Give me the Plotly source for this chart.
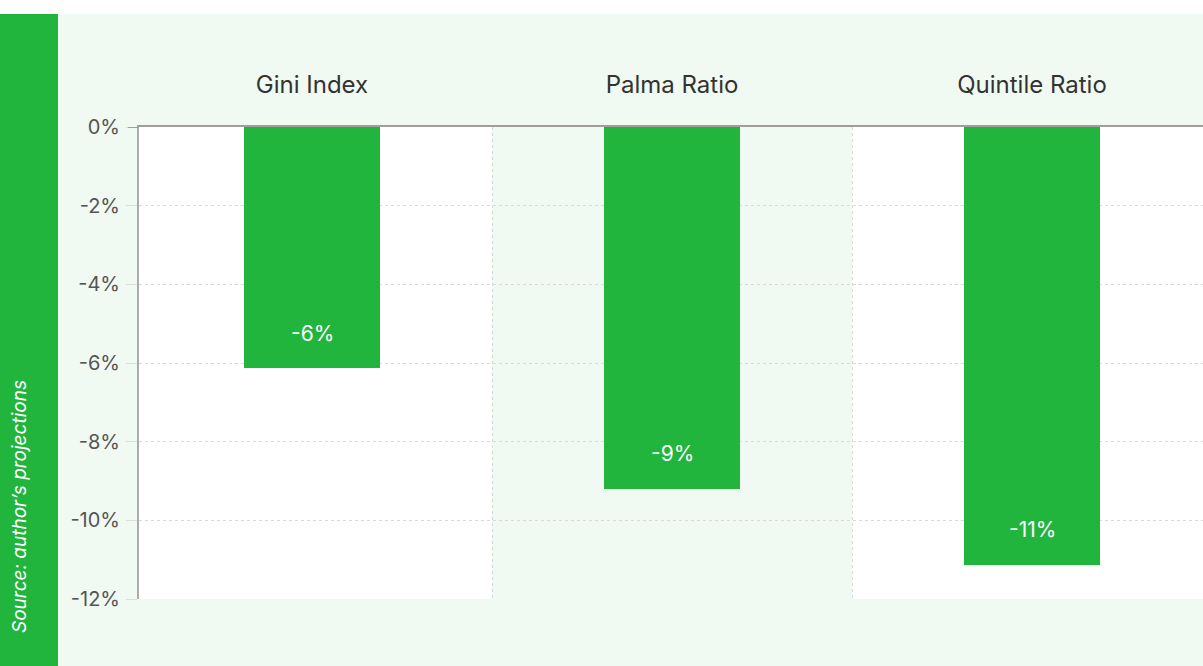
import plotly.graph_objects as go

categories = ["Gini Index", "Palma Ratio", "Quintile Ratio"]
values = [-6.13, -9.2, -11.13]
labels = ["-6%", "-9%", "-11%"]
y_ticks = [0, -2, -4, -6, -8, -10, -12]
y_tick_text = ["0%", "-2%", "-4%", "-6%", "-8%", "-10%", "-12%"]
source_text = "Source: author\u2019s projections"

GREEN = "#21B53D"
LIGHT = "#F0F9F2"
FONT = "Inter"

W, H = 1203, 666
L, R, T, B = 139, 0, 127, 67
pw, ph = W - L - R, H - T - B

def px_x(p):
    return (p - L) / pw

def px_y(p):
    return (H - B - p) / ph

fig = go.Figure()
fig.add_trace(go.Bar(
    x=categories, y=values, marker=dict(color=GREEN, line=dict(width=0)),
    width=0.378, hoverinfo="skip",
))

for c, v, t in zip(categories, values, labels):
    fig.add_annotation(x=c, y=v, text=t, showarrow=False, yshift=35,
                       font=dict(family=FONT, size=21, color="white"))

shapes = []
# top white band
shapes.append(dict(type="rect", xref="paper", yref="paper", x0=px_x(-5), x1=px_x(W + 5),
                   y0=px_y(14), y1=px_y(-5), fillcolor="white", line=dict(width=0), layer="below"))
# left green strip
shapes.append(dict(type="rect", xref="paper", yref="paper", x0=px_x(-5), x1=px_x(58),
                   y0=px_y(H + 5), y1=px_y(14), fillcolor=GREEN, line=dict(width=0), layer="below"))
# shaded middle column
shapes.append(dict(type="rect", xref="x", yref="y", x0=0.5, x1=1.5, y0=-12, y1=0,
                   fillcolor=LIGHT, line=dict(width=0), layer="below"))
# zero line extension to the left
shapes.append(dict(type="line", xref="paper", yref="y", x0=px_x(128), x1=0, y0=0, y1=0,
                   line=dict(color="#9e9e9e", width=2)))
fig.update_layout(shapes=shapes)

fig.add_annotation(xref="paper", yref="paper", x=px_x(19.5), y=px_y(506.5), text=source_text,
                   textangle=-90, showarrow=False, xanchor="center", yanchor="middle",
                   font=dict(family=FONT, size=19, color="white", style="italic"))

cat_w = 360.0
x0 = -0.5 + (139 - 132) / cat_w
x1 = 2.5 - (1212 - 1203) / cat_w

fig.update_xaxes(
    side="top", range=[x0, x1], showline=True, linecolor="#9e9e9e", linewidth=2,
    tickson="boundaries", showgrid=True, gridcolor="#dadada", griddash="dot", gridwidth=1,
    ticks="", tickfont=dict(family=FONT, size=24, color="#333333"), ticklabelstandoff=22,
    zeroline=False, fixedrange=True,
)
fig.update_yaxes(
    range=[-12, 0], tickvals=y_ticks, ticktext=y_tick_text,
    showline=True, linecolor="#ababab", linewidth=2,
    showgrid=True, gridcolor="#dadada", griddash="dot", gridwidth=1,
    ticks="outside", ticklen=11, tickcolor="#dcdcdc", tickwidth=1,
    tickfont=dict(family=FONT, size=20, color="#555555"), ticklabelstandoff=2,
    zeroline=False, fixedrange=True,
)

fig.update_layout(
    width=W, height=H, margin=dict(l=L, r=R, t=T, b=B, pad=0),
    paper_bgcolor=LIGHT, plot_bgcolor="white", showlegend=False,
    bargap=0, font=dict(family=FONT),
)

fig.write_html("out.html", config={"displayModeBar": False},
               post_script="document.body.style.margin='0';document.body.style.overflow='hidden';")
